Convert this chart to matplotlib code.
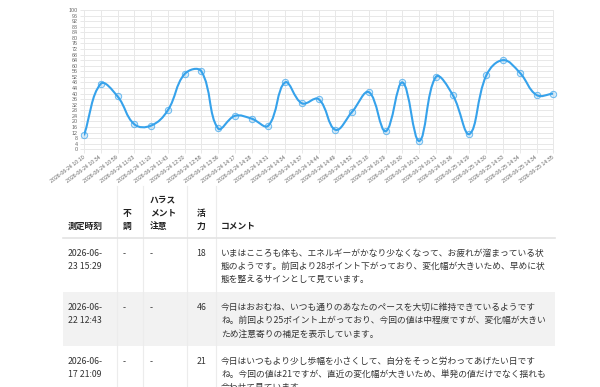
import numpy as np
import matplotlib
matplotlib.use("Agg")
import matplotlib.pyplot as plt
from matplotlib.path import Path
from matplotlib.patches import PathPatch, Rectangle
from matplotlib.lines import Line2D

plt.rcParams['font.family'] = ['Noto Sans CJK JP', 'DejaVu Sans']

# ---------------- data ----------------
time_labels = [
    "2026-06-24 10:10", "2026-06-24 10:34", "2026-06-24 10:59", "2026-06-24 11:03",
    "2026-06-24 11:10", "2026-06-24 11:43", "2026-06-24 12:20", "2026-06-24 12:58",
    "2026-06-24 13:36", "2026-06-24 14:17", "2026-06-24 14:28", "2026-06-24 14:31",
    "2026-06-24 14:34", "2026-06-24 14:37", "2026-06-24 14:44", "2026-06-24 14:49",
    "2026-06-24 14:52", "2026-06-24 15:18", "2026-06-24 16:29", "2026-06-24 16:30",
    "2026-06-24 16:31", "2026-06-24 16:31", "2026-06-24 16:36", "2026-06-25 14:29",
    "2026-06-25 14:30", "2026-06-25 14:33", "2026-06-25 14:34", "2026-06-25 14:34",
    "2026-06-25 14:35",
]
vitality = [10, 47, 38, 18, 17, 28, 54, 56, 15, 24, 22, 17, 48, 33, 36, 14,
            27, 41, 13, 48, 6, 52, 39, 11, 53, 64, 55, 39, 40]
y_ticks = list(range(0, 101, 4))

header_labels = ["測定時刻", "不\n調", "ハラス\nメント\n注意", "活\n力", "コメント"]
row_times = ["2026-06-\n23 15:29", "2026-06-\n22 12:43", "2026-06-\n17 21:09"]
row_fuchou = ["-", "-", "-"]
row_harass = ["-", "-", "-"]
row_vitality = ["18", "46", "21"]
row_comments = [
    "いまはこころも体も、エネルギーがかなり少なくなって、お疲れが溜まっている状\n"
    "態のようです。前回より28ポイント下がっており、変化幅が大きいため、早めに状\n"
    "態を整えるサインとして見ています。",
    "今日はおおむね、いつも通りのあなたのペースを大切に維持できているようです\n"
    "ね。前回より25ポイント上がっており、今回の値は中程度ですが、変化幅が大きい\n"
    "ため注意寄りの補足を表示しています。",
    "今日はいつもより少し歩幅を小さくして、自分をそっと労わってあげたい日です\n"
    "ね。今回の値は21ですが、直近の変化幅が大きいため、単発の値だけでなく揺れも\n"
    "合わせて見ています。",
]

# ---------------- figure ----------------
W, H = 600, 387
fig = plt.figure(figsize=(W / 100, H / 100), dpi=100)

line_color = '#36a2eb'
grid_color = '#e8e8e8'
tick_color = '#666666'

L, R, T, B = 84, 553.3, 10, 149.3
ax = fig.add_axes([L / W, 1 - B / H, (R - L) / W, (B - T) / H])
n = len(vitality)
xs = np.arange(n)
ax.set_xlim(0, n - 1)
ax.set_ylim(0, 100)
ax.set_yticks(y_ticks)
ax.set_yticklabels([str(v) for v in y_ticks], fontsize=3.9, color=tick_color,
                   family=['Liberation Sans', 'DejaVu Sans'])
ax.set_xticks(xs)
ax.set_xticklabels(time_labels, fontsize=3.8, color=tick_color, rotation=37,
                   ha='right', va='center', rotation_mode='anchor',
                   family=['Liberation Sans', 'DejaVu Sans'])
ax.tick_params(axis='both', length=3, width=0.7, color=grid_color)
ax.tick_params(axis='y', pad=1.5)
ax.tick_params(axis='x', pad=2.5)
ax.grid(True, color=grid_color, linewidth=0.7)
ax.set_axisbelow(True)
for s in ax.spines.values():
    s.set_color(grid_color)
    s.set_linewidth(0.7)

# Chart.js style bezier spline (tension 0.4) computed in display space
tension = 0.4
P = ax.transData.transform(np.column_stack([xs, vitality]))
prev_cp = np.zeros_like(P)
next_cp = np.zeros_like(P)
for i in range(n):
    cur = P[i]
    prv = P[i - 1] if i > 0 else cur
    nxt = P[i + 1] if i < n - 1 else cur
    d01 = np.hypot(*(cur - prv))
    d12 = np.hypot(*(nxt - cur))
    tot = d01 + d12
    s01 = d01 / tot if tot else 0
    s12 = d12 / tot if tot else 0
    prev_cp[i] = cur - tension * s01 * (nxt - prv)
    next_cp[i] = cur + tension * s12 * (nxt - prv)
inv = ax.transData.inverted()
prev_d = inv.transform(prev_cp)
next_d = inv.transform(next_cp)
data_pts = np.column_stack([xs, vitality]).astype(float)
for arr in (prev_d, next_d):
    arr[:, 0] = np.clip(arr[:, 0], 0, n - 1)
    arr[:, 1] = np.clip(arr[:, 1], 0, 100)
verts = [data_pts[0]]
codes = [Path.MOVETO]
for i in range(n - 1):
    verts += [next_d[i], prev_d[i + 1], data_pts[i + 1]]
    codes += [Path.CURVE4] * 3
ax.add_patch(PathPatch(Path(verts, codes), facecolor='none', edgecolor=line_color,
                       linewidth=1.5, zorder=3))
ax.plot(xs, vitality, linestyle='none', marker='o', markersize=4.6,
        markerfacecolor=(0.21, 0.635, 0.92, 0.2), markeredgecolor=(0.21, 0.635, 0.92, 0.7),
        markeredgewidth=0.7, zorder=4, clip_on=False)

# ---------------- table ----------------
tab = fig.add_axes([0, 0, 1, 1])
tab.set_xlim(0, W)
tab.set_ylim(H, 0)
tab.axis('off')

t_left, t_right = 63, 555
col_x = [67.5, 122.5, 150, 196.5, 221]
col_sep = [117.3, 142.7, 187.3, 216]
header_bottom = 238
row_tops = [238, 292, 346]
row_h = 54
line_h = 13.2
text_color = '#333333'
fs = 6.3

# gray stripe on the second row
tab.add_patch(Rectangle((t_left, row_tops[1]), t_right - t_left, row_h,
                        facecolor='#f2f2f2', edgecolor='none', zorder=0))
for sx in col_sep:
    tab.add_line(Line2D([sx, sx], [186, H], color='#ececec', linewidth=0.8, zorder=1))
tab.add_line(Line2D([t_left, t_right], [header_bottom, header_bottom],
                    color='#e3e3e3', linewidth=1.2, zorder=1))

# header (bottom aligned)
for cx, lab in zip(col_x, header_labels):
    lines = lab.split("\n")
    for k, ln in enumerate(reversed(lines)):
        tab.text(cx, 226.5 - k * 13.2, ln, fontsize=fs, fontweight='bold',
                 color='#222222', ha='left', va='center')

# body
for r in range(len(row_times)):
    y0 = row_tops[r] + 15.5
    cells = [row_times[r], row_fuchou[r], row_harass[r], row_vitality[r], row_comments[r]]
    for cx, cell in zip(col_x, cells):
        for k, ln in enumerate(cell.split("\n")):
            tab.text(cx, y0 + k * line_h, ln, fontsize=fs, color=text_color,
                     ha='left', va='center')

fig.savefig("out.png", dpi=100)
